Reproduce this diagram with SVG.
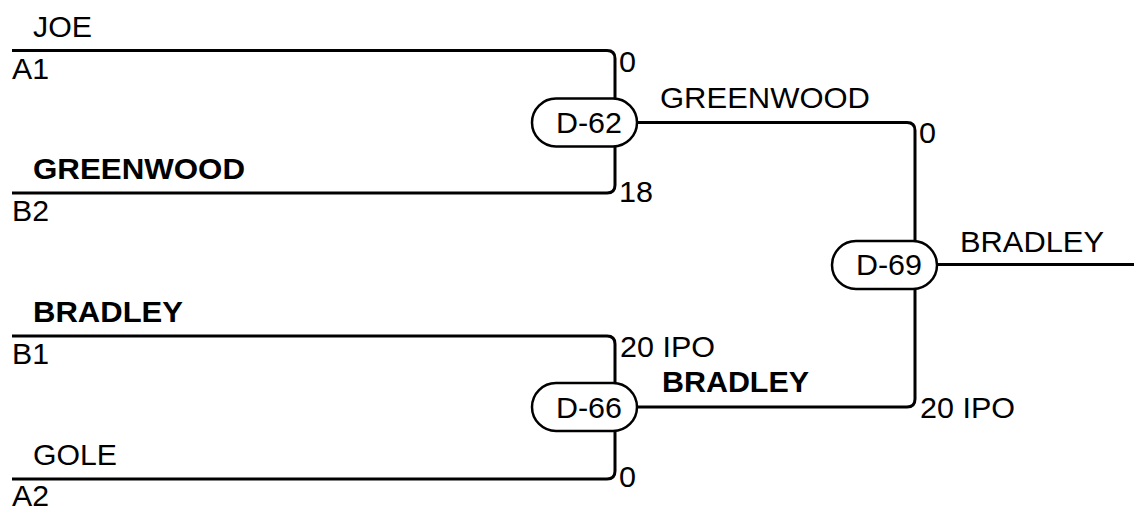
<svg xmlns="http://www.w3.org/2000/svg" width="1134" height="508" viewBox="0 0 1134 508">
<style>
text{font-family:"Liberation Sans",Arial,sans-serif;font-size:29.5px;fill:#000}
.b{font-weight:bold}
.ln{fill:none;stroke:#000;stroke-width:3}
.pill{fill:#fff;stroke:#000;stroke-width:2.5}
</style>
<rect width="1134" height="508" fill="#fff"/>
<g id="connectors">
<path class="ln" d="M12,50.5 H607 Q615,50.5 615,58.5 V99"/>
<path class="ln" d="M12,193 H607 Q615,193 615,185 V146"/>
<path class="ln" d="M637,122.5 H907 Q915,122.5 915,130.5 V242"/>
<path class="ln" d="M12,336 H607 Q615,336 615,344 V384"/>
<path class="ln" d="M12,479 H607 Q615,479 615,471 V430"/>
<path class="ln" d="M637,407 H907 Q915,407 915,399 V288"/>
<path class="ln" d="M937,264.5 H1134"/>
</g>
<g id="entries">
<text x="33" y="37" textLength="59" lengthAdjust="spacingAndGlyphs">JOE</text>
<text x="12" y="79" textLength="37" lengthAdjust="spacingAndGlyphs">A1</text>
<text class="b" x="33" y="179" textLength="212" lengthAdjust="spacingAndGlyphs">GREENWOOD</text>
<text x="12" y="221" textLength="37" lengthAdjust="spacingAndGlyphs">B2</text>
<text class="b" x="33" y="322" textLength="150" lengthAdjust="spacingAndGlyphs">BRADLEY</text>
<text x="12" y="364" textLength="37" lengthAdjust="spacingAndGlyphs">B1</text>
<text x="33" y="465" textLength="84" lengthAdjust="spacingAndGlyphs">GOLE</text>
<text x="12" y="506" textLength="37" lengthAdjust="spacingAndGlyphs">A2</text>
</g>
<g id="D-62">
<rect class="pill" x="532" y="98.5" width="105" height="48" rx="24"/>
<text x="556" y="133" textLength="66" lengthAdjust="spacingAndGlyphs">D-62</text>
<text x="619" y="72" textLength="17" lengthAdjust="spacingAndGlyphs">0</text>
<text x="619" y="202" textLength="34" lengthAdjust="spacingAndGlyphs">18</text>
<text x="660" y="108" textLength="210" lengthAdjust="spacingAndGlyphs">GREENWOOD</text>
</g>
<g id="D-66">
<rect class="pill" x="532" y="383" width="105" height="48" rx="24"/>
<text x="556" y="418" textLength="66" lengthAdjust="spacingAndGlyphs">D-66</text>
<text x="620" y="357" textLength="95" lengthAdjust="spacingAndGlyphs">20 IPO</text>
<text x="619" y="487" textLength="17" lengthAdjust="spacingAndGlyphs">0</text>
<text class="b" x="662" y="392" textLength="147" lengthAdjust="spacingAndGlyphs">BRADLEY</text>
</g>
<g id="D-69">
<rect class="pill" x="832" y="241" width="105" height="48" rx="24"/>
<text x="856" y="275" textLength="66" lengthAdjust="spacingAndGlyphs">D-69</text>
<text x="919" y="143" textLength="17" lengthAdjust="spacingAndGlyphs">0</text>
<text x="920" y="418" textLength="95" lengthAdjust="spacingAndGlyphs">20 IPO</text>
<text x="960" y="252" textLength="144" lengthAdjust="spacingAndGlyphs">BRADLEY</text>
</g>
</svg>
